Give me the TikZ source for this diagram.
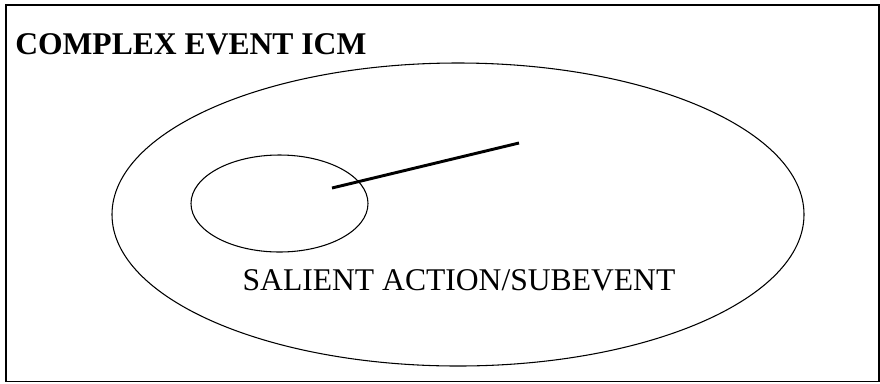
\documentclass[tikz,border=0pt]{standalone}
\usepackage{fontspec}
\setmainfont{Liberation Serif}
\begin{document}
\begin{tikzpicture}[x=0.75pt,y=-0.75pt,
  frame/.style={draw=black,line width=0.9pt},
  oval/.style={draw=black,line width=0.8pt},
  link/.style={draw=black,line width=2.2pt},
  lbl/.style={font=\fontsize{23.7pt}{27pt}\selectfont,inner sep=0pt},
  ttl/.style={font=\fontsize{23.7pt}{27pt}\selectfont\bfseries,inner sep=0pt}]
\useasboundingbox (0,0) rectangle (880,383);
\draw[frame] (6,5) rectangle (879,381.5);
\node[ttl,anchor=base west] (title) at (15,54) {COMPLEX EVENT ICM};
\draw[oval] (458,214.5) ellipse [x radius=346, y radius=151.5];
\coordinate (bigc) at (458,214.5);
\draw[oval] (279.5,203.5) ellipse [x radius=88.5, y radius=48.5];
\coordinate (inner) at (332,188);
\coordinate (outer) at (519,143);
\draw[link] (inner) -- (outer);
\node[lbl,anchor=base] (sal) at (459,290) {SALIENT ACTION/SUBEVENT};
\end{tikzpicture}
\end{document}
